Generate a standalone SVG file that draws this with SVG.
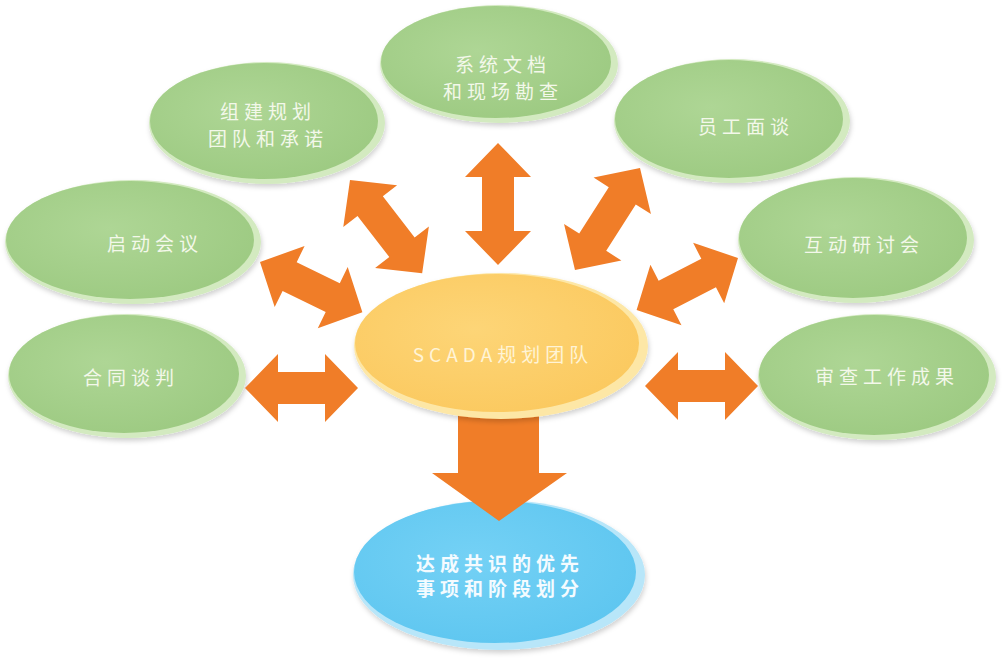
<svg xmlns="http://www.w3.org/2000/svg" width="1007" height="668" viewBox="0 0 1007 668">
<defs>
<radialGradient id="gGreen" cx="0.42" cy="0.4" r="0.65">
<stop offset="0" stop-color="#aed695"/>
<stop offset="1" stop-color="#9dca82"/>
</radialGradient>
<radialGradient id="gOrange" cx="0.42" cy="0.4" r="0.65">
<stop offset="0" stop-color="#fdd577"/>
<stop offset="1" stop-color="#fbc95f"/>
</radialGradient>
<radialGradient id="gBlue" cx="0.42" cy="0.4" r="0.65">
<stop offset="0" stop-color="#74d1f5"/>
<stop offset="1" stop-color="#5ec6f0"/>
</radialGradient>
<filter id="sh" x="-10%" y="-10%" width="120%" height="130%">
<feDropShadow dx="1" dy="3" stdDeviation="2.5" flood-color="#000" flood-opacity="0.18"/>
</filter>
</defs>
<style>
.rimG{fill:#d3eac0;filter:url(#sh)}
.bodyG{fill:url(#gGreen)}
.rimO{fill:#fde7a6;filter:url(#sh)}
.bodyO{fill:url(#gOrange)}
.rimB{fill:#b8e6f9;filter:url(#sh)}
.bodyB{fill:url(#gBlue)}
.t{font-family:"Noto Sans CJK SC","Noto Sans",sans-serif;font-size:19px;fill:#f3f8ea;text-anchor:middle;dominant-baseline:central;letter-spacing:5px}
.tc{fill:#fff4d6}
.tb{fill:#f4fbff;font-weight:bold}
.arr{fill:#f07d28}
</style>
<rect width="1007" height="668" fill="#ffffff"/>

<g id="node-contract">
<ellipse class="rimG" cx="127" cy="376" rx="119" ry="62"/>
<ellipse class="bodyG" cx="124" cy="374" rx="115" ry="59"/>
<text class="t" x="131" y="376">合同谈判</text>
</g>
<g id="node-kickoff">
<ellipse class="rimG" cx="133" cy="242" rx="128" ry="62"/>
<ellipse class="bodyG" cx="130" cy="240" rx="124" ry="59"/>
<text class="t" x="155" y="242">启动会议</text>
</g>
<g id="node-team">
<ellipse class="rimG" cx="267" cy="123" rx="118" ry="61"/>
<ellipse class="bodyG" cx="264" cy="121" rx="114" ry="58"/>
<text class="t" x="268" y="110">组建规划</text>
<text class="t" x="268" y="137">团队和承诺</text>
</g>
<g id="node-docs">
<ellipse class="rimG" cx="499" cy="64" rx="119" ry="59"/>
<ellipse class="bodyG" cx="496" cy="62" rx="115" ry="56"/>
<text class="t" x="503" y="63">系统文档</text>
<text class="t" x="503" y="90">和现场勘查</text>
</g>
<g id="node-interview">
<ellipse class="rimG" cx="732" cy="121" rx="118" ry="62"/>
<ellipse class="bodyG" cx="729" cy="119" rx="114" ry="59"/>
<text class="t" x="746" y="125">员工面谈</text>
</g>
<g id="node-workshop">
<ellipse class="rimG" cx="856" cy="240" rx="118" ry="63"/>
<ellipse class="bodyG" cx="853" cy="238" rx="114" ry="60"/>
<text class="t" x="864" y="243">互动研讨会</text>
</g>
<g id="node-review">
<ellipse class="rimG" cx="877" cy="377" rx="119" ry="63"/>
<ellipse class="bodyG" cx="874" cy="375" rx="115" ry="60"/>
<text class="t" x="887" y="375">审查工作成果</text>
</g>
<g id="node-result">
<ellipse class="rimB" cx="499" cy="575" rx="146" ry="75"/>
<ellipse class="bodyB" cx="495" cy="572" rx="141" ry="71"/>
<text class="t tb" x="500" y="562">达成共识的优先</text>
<text class="t tb" x="500" y="587">事项和阶段划分</text>
</g>

<g id="connectors">
<path class="arr" d="M 0 0 L 33 -34 L 33 -16 L 80 -16 L 80 -34 L 113 0 L 80 34 L 80 16 L 33 16 L 33 34 Z" transform="translate(245,388)"/>
<path class="arr" d="M 0 0 L 33 -34 L 33 -16 L 80 -16 L 80 -34 L 113 0 L 80 34 L 80 16 L 33 16 L 33 34 Z" transform="translate(645,386)"/>
<path class="arr" d="M 0 0 L 34 -33 L 34 -16 L 88 -16 L 88 -33 L 122 0 L 88 33 L 88 16 L 34 16 L 34 33 Z" transform="translate(498,143) rotate(90)"/>
<path class="arr" d="M 0 0 L 33 -34 L 33 -16 L 85 -16 L 85 -34 L 118 0 L 85 34 L 85 16 L 33 16 L 33 34 Z" transform="translate(350,180) rotate(52.3)"/>
<path class="arr" d="M 0 0 L 33 -34 L 33 -16 L 81 -16 L 81 -34 L 114 0 L 81 34 L 81 16 L 33 16 L 33 34 Z" transform="translate(260,262) rotate(26.1)"/>
<path class="arr" d="M 0 0 L 33 -34 L 33 -16 L 88 -16 L 88 -34 L 121 0 L 88 34 L 88 16 L 33 16 L 33 34 Z" transform="translate(640,168) rotate(122.5)"/>
<path class="arr" d="M 0 0 L 33 -34 L 33 -16 L 81 -16 L 81 -34 L 114 0 L 81 34 L 81 16 L 33 16 L 33 34 Z" transform="translate(738,258) rotate(152.8)"/>
<path class="arr" d="M 458 410 L 539 410 L 539 473 L 567 473 L 499 521 L 432 473 L 458 473 Z"/>
</g>

<g id="node-center">
<ellipse class="rimO" cx="501" cy="346" rx="147" ry="73"/>
<ellipse class="bodyO" cx="497" cy="343" rx="142" ry="69"/>
<text class="t tc" x="503" y="353">SCADA规划团队</text>
</g>
</svg>
